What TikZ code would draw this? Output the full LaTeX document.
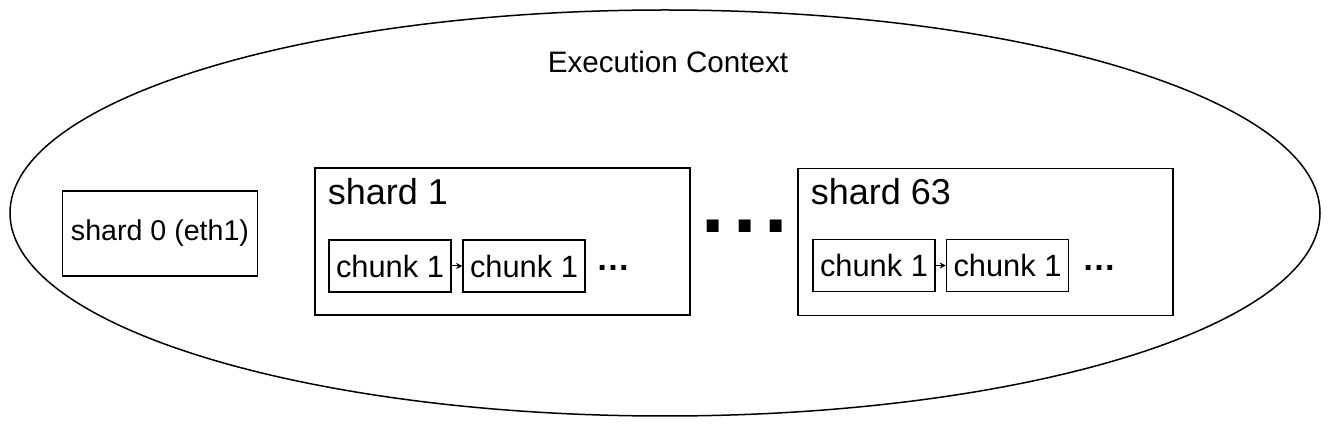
\documentclass[tikz,border=0pt]{standalone}
\usepackage{fontspec}
\setmainfont{Liberation Sans}
\usetikzlibrary{shapes.geometric,arrows.meta}

\begin{document}
\begin{tikzpicture}
  [x=0.5pt,y=-0.5pt,line width=0.75pt,
   shardbox/.style={draw,rectangle,minimum width=187.5pt,minimum height=73.5pt,inner sep=0pt},
   chunkbox/.style={draw,rectangle,minimum width=61pt,minimum height=26pt,inner sep=0pt,font=\fontsize{15.4}{18}\selectfont},
   shardtitle/.style={inner sep=0pt,anchor=base west,font=\fontsize{18}{21}\selectfont},
   moredots/.style={inner sep=0pt,font=\fontsize{17}{19}\bfseries},
   link/.style={-{Stealth[length=3pt,width=3pt]},line width=0.5pt}]
  \useasboundingbox (0,0) rectangle (1329,427);

  % execution context
  \node[ellipse,draw,minimum width=655pt,minimum height=203pt,inner sep=0pt] (ctx) at (665,213) {};
  \node[inner sep=0pt,anchor=base,font=\fontsize{14.8}{17}\selectfont] (ctxtitle) at (668,73) {Execution Context};

  % shard 0
  \node[draw,rectangle,minimum width=97.5pt,minimum height=42.5pt,inner sep=0pt,font=\fontsize{14.3}{17}\selectfont] (s0) at (160,233.5) {shard 0 (eth1)};

  % shard 1
  \node[shardbox] (s1) at (502.5,241.5) {};
  \node[shardtitle] (s1title) at (327,205) {shard 1};
  \node[chunkbox] (s1c1) at (390,266) {chunk 1};
  \node[chunkbox] (s1c2) at (524,266) {chunk 1};
  \node[moredots] (s1more) at (613,268) {…};
  \draw[link] (s1c1) -- (s1c2);

  % gap between shards
  \node[inner sep=0pt,font=\fontsize{42}{46}\bfseries] (gap) at (745,226.5) {.\kern4pt.\kern4pt.};

  % shard 63
  \node[shardbox] (s63) at (985.5,242) {};
  \node[shardtitle] (s63title) at (810,205) {shard 63};
  \node[chunkbox] (s63c1) at (874,265.5) {chunk 1};
  \node[chunkbox] (s63c2) at (1007.5,265.5) {chunk 1};
  \node[moredots] (s63more) at (1099,268) {…};
  \draw[link] (s63c1) -- (s63c2);
\end{tikzpicture}
\end{document}
